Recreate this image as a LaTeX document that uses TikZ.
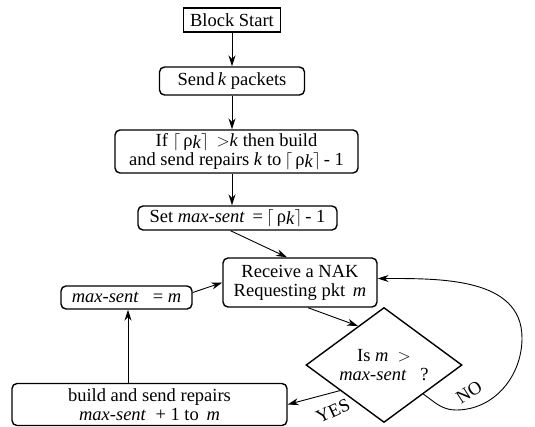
\documentclass[tikz,border=0pt]{standalone}
\usepackage{fontspec}
\setmainfont{Liberation Serif}
\usetikzlibrary{arrows.meta,shapes.geometric,calc}
\tikzset{
  rbox/.style={draw,rounded corners=5pt,line width=1.4pt,inner sep=0pt,align=center},
  flow/.style={-{Stealth[length=11pt,width=7pt]},line width=0.9pt},
}
\newcommand{\ms}{\textit{max-sent}}
\newcommand{\rk}{$\lceil$\,ρ\raisebox{-2pt}{\textit{k}}$\rceil$}

\begin{document}
\begin{tikzpicture}[x=1pt,y=-1pt,font=\fontsize{18.5}{19}\selectfont]
   \useasboundingbox (0,0) rectangle (535,426);
 %
   \node[draw,line width=1.4pt,inner sep=0pt,minimum width=97pt,minimum height=24pt]
        (start) at (232,20) {Block Start};
   \node[rbox,minimum width=145pt,minimum height=28pt] (send) at (232,81) {Send\,\textit{k} packets};
   \node[rbox,minimum width=243pt,minimum height=43pt] (ifbox) at (236.5,151.5)
        {If \rk\ \,$>$\textit{k} then build\\ and send repairs \textit{k} to\,\rk\,- 1};
   \node[rbox,minimum width=199pt,minimum height=24pt] (setms) at (237.5,218)
        {Set \ms\ \,=\,\rk\,- 1};
   \node[rbox,minimum width=154pt,minimum height=49pt] (recv) at (300,282.5)
        {Receive a NAK\\ Requesting pkt \,\textit{m}};
   \node[rbox,minimum width=131pt,minimum height=23pt] (msm) at (126.5,297.5)
        {\ms\ \ \ = \textit{m}};
   \node[draw,diamond,line width=1.4pt,inner sep=0pt,aspect=1.36,
         minimum width=156pt,minimum height=115pt,align=center] (test) at (384,365)
        {Is \textit{m} \ $>$\\ \ms\ \ \ ?};
   \node[rbox,minimum width=275pt,minimum height=42pt] (repair) at (149.5,404.5)
        {build and send repairs\\ \ms\ \ + 1 to \,\textit{m}};
 %
   \draw[flow] (start) -- (send);
   \draw[flow] (send.south) -- (send.south |- ifbox.north);
   \draw[flow] (ifbox.south -| send) -- (setms.north -| send);
   \draw[flow] ([xshift=-7pt]setms.south) -- ([xshift=-13pt]recv.north);
   \draw[flow] ([yshift=5pt]msm.east) -- (recv.west);
   \draw[flow] (repair.north -| 128,0) -- (msm.south -| 128,0);
   \draw[flow] ([xshift=8pt]recv.south) -- ($(test.west)!0.67!(test.north)$);
 %
   \draw[flow] ($(test.west)!0.44!(test.south)$) -- (repair.east);
   \node[rotate=25,inner sep=0pt] (yes) at (333,411) {YES};
 %
   \coordinate (nolow) at (456,410);
   \coordinate (noright) at (522,338);
   \draw[flow] ($(test.east)!0.5!(test.south)$) to[out=-35,in=180] (nolow)
        to[out=0,in=-90] (noright) to[out=90,in=0] ([yshift=4pt]recv.east);
   \node[rotate=33,inner sep=0pt] (no) at (469,392) {NO};
\end{tikzpicture}
\end{document}
